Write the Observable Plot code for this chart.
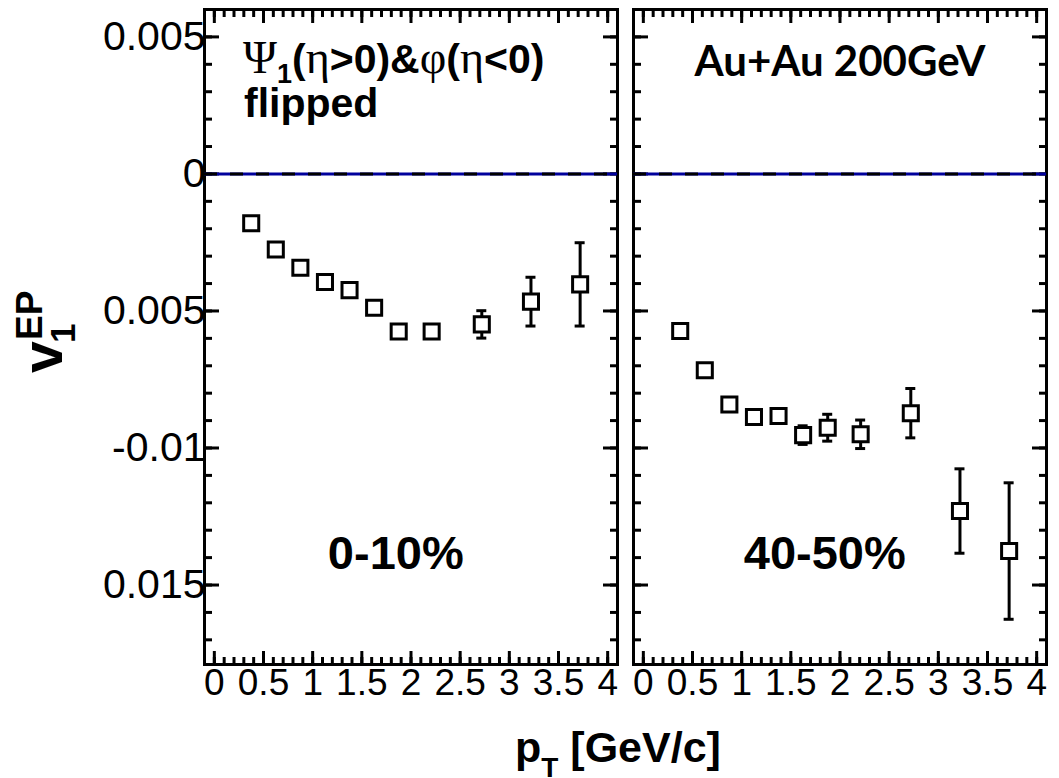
<!DOCTYPE html>
<html>
<head>
<meta charset="utf-8">
<script src="https://cdn.jsdelivr.net/npm/d3@7"></script>
<script src="https://cdn.jsdelivr.net/npm/@observablehq/plot@0.6"></script>
<style>
  html, body { margin: 0; padding: 0; background: #fff; }
  #chart { position: relative; width: 1059px; height: 778px; overflow: hidden; }
</style>
</head>
<body>
<div id="chart"></div>
<script>
// pT bin centres (GeV/c), shared by both centrality classes
const pt = [0.375, 0.625, 0.875, 1.125, 1.375, 1.625, 1.875, 2.21, 2.72, 3.22, 3.72];

// v1 from the event-plane method, 0-10% centrality, with statistical errors
const v1Central  = [-0.0018, -0.00276, -0.00342, -0.00394, -0.00424, -0.00488, -0.00575, -0.00575, -0.00549, -0.00466, -0.00403];
const errCentral = [0.0001, 0.0001, 0.0001, 0.00011, 0.00012, 0.00014, 0.00018, 0.00022, 0.0005, 0.00089, 0.00152];

// v1, 40-50% centrality
const v1Peripheral  = [-0.00573, -0.00716, -0.00841, -0.00887, -0.00883, -0.00953, -0.00926, -0.0095, -0.00873, -0.0123, -0.01376];
const errPeripheral = [0.00015, 0.00018, 0.0002, 0.00022, 0.00025, 0.00034, 0.00049, 0.00052, 0.0009, 0.00154, 0.00249];

const panels = ["0-10%", "40-50%"];

const xTickValues = [0, 0.5, 1, 1.5, 2, 2.5, 3, 3.5, 4];
const xTickLabels = ["0", "0.5", "1", "1.5", "2", "2.5", "3", "3.5", "4"];
const yTickValues = [0.005, 0, -0.005, -0.01, -0.015];
const yTickLabels = ["0.005", "0", "0.005", "-0.01", "0.015"];

// one row per measured point, tagged with its centrality panel
const rows = panels.flatMap((panel, p) => pt.map((x, i) => ({
  panel,
  pt: x,
  v1: p ? v1Peripheral[i] : v1Central[i],
  err: p ? errPeripheral[i] : errCentral[i]
})));

const xLabelOf = new Map(xTickValues.map((v, i) => [v, xTickLabels[i]]));
const yLabelOf = new Map(yTickValues.map((v, i) => [v, yTickLabels[i]]));

// minor tick grids: 0.1 in pT, 0.001 in v1
const xMinor = d3.range(0, 41).map(k => k / 10);
const yMinor = d3.range(-17, 7).map(k => k / 1000);

const sans = "'Liberation Sans', Arial, Helvetica, sans-serif";
const serif = "'Liberation Serif', 'Times New Roman', serif";
const blank = () => "";

// inward-pointing ticks on every side of every panel
const frameTicks = (values, anchor, size, k) =>
  (k === "x" ? Plot.axisX : Plot.axisY)(values, {
    anchor, tickSize: -size, strokeWidth: 3, tickFormat: blank,
    facetAnchor: null, label: null
  });

const chart = Plot.plot({
  width: 1059,
  height: 778,
  marginLeft: 204,
  marginRight: 12,
  marginTop: 9,
  marginBottom: 114,
  style: {fontFamily: sans, background: "white", color: "black"},
  x: {domain: [-0.1, 4.1]},
  y: {domain: [-0.0179, 0.006]},
  fx: {domain: panels, paddingInner: 32 / 859, paddingOuter: 0, axis: null, label: null},
  marks: [
    Plot.frame({strokeWidth: 3}),

    frameTicks(yMinor, "left", 8, "y"),
    frameTicks(yTickValues, "left", 15, "y"),
    frameTicks(yMinor, "right", 8, "y"),
    frameTicks(yTickValues, "right", 15, "y"),
    frameTicks(xMinor, "bottom", 7, "x"),
    frameTicks(xTickValues, "bottom", 13, "x"),
    frameTicks(xMinor, "top", 7, "x"),
    frameTicks(xTickValues, "top", 13, "x"),

    // tick labels: y on the outer left panel only, x under both panels
    Plot.axisY(yTickValues, {
      anchor: "left", tickSize: 0, tickPadding: -1, fontSize: 41,
      tickFormat: d => yLabelOf.get(d), label: null
    }),
    Plot.axisX(xTickValues, {
      anchor: "bottom", tickSize: 0, tickPadding: 4, fontSize: 37,
      tickFormat: d => xLabelOf.get(d), label: null
    }),

    // zero reference: blue line under a black dashed one
    Plot.ruleY([0], {stroke: "#00009c", strokeWidth: 3}),
    Plot.ruleY([0], {stroke: "black", strokeWidth: 3, strokeDasharray: "13,13"}),

    // error bars with end caps
    Plot.ruleX(rows, {fx: "panel", x: "pt", y1: d => d.v1 - d.err, y2: d => d.v1 + d.err, strokeWidth: 3}),
    Plot.ruleY(rows, {fx: "panel", x1: "pt", x2: "pt", y: d => d.v1 - d.err, strokeWidth: 3, insetLeft: -5, insetRight: -5}),
    Plot.ruleY(rows, {fx: "panel", x1: "pt", x2: "pt", y: d => d.v1 + d.err, strokeWidth: 3, insetLeft: -5, insetRight: -5}),

    // open squares
    Plot.dot(rows, {fx: "panel", x: "pt", y: "v1", symbol: "square", r: 8.5, fill: "white", stroke: "black", strokeWidth: 3}),

    // centrality class in each panel
    Plot.text(panels, {fx: d => d, text: d => d, x: 1.845, y: -0.01385, fontSize: 47, fontWeight: "bold"}),

    // collision system, right panel
    Plot.text([{panel: "40-50%", label: "Au+Au 200GeV"}], {
      fx: "panel", text: "label", x: 2.0, y: 0.00407,
      fontSize: 42, fontWeight: "bold", fontFamily: "Lato, 'Open Sans', sans-serif"
    }),

    // second line of the method note, left panel
    Plot.text([{panel: "0-10%", label: "flipped"}], {
      fx: "panel", text: "label", x: 0.302, y: 0.00254, textAnchor: "start",
      fontSize: 41, fontWeight: "bold"
    })
  ]
});

document.getElementById("chart").appendChild(chart);

const svg = d3.select(chart);

// method note with Greek symbols and a subscript
const note = svg.append("text")
  .attr("x", 243).attr("y", 73)
  .attr("text-anchor", "start")
  .attr("font-size", 41).attr("fill", "black");
const part = (t, opts = {}) => {
  const s = note.append("tspan").text(t)
    .attr("font-family", opts.serif ? serif : sans)
    .attr("font-weight", opts.serif ? "normal" : "bold");
  if (opts.size) s.attr("font-size", opts.size);
  if (opts.dy) s.attr("dy", opts.dy);
  return s;
};
part("Ψ", {serif: true, size: 46});
part("1", {size: 27, dy: 10});
part("(", {dy: -10});
part("η", {serif: true, size: 46});
part(">0)&");
part("φ", {serif: true, size: 46});
part("(");
part("η", {serif: true, size: 46});
part("<0)");

// x-axis title: p_T [GeV/c]
const xt = svg.append("text")
  .attr("x", 515).attr("y", 762)
  .attr("text-anchor", "start")
  .attr("font-family", sans).attr("font-weight", "bold")
  .attr("font-size", 43).attr("fill", "black");
xt.append("tspan").text("p");
xt.append("tspan").text("T").attr("font-size", 28).attr("dy", 15);
xt.append("tspan").text(" [GeV/c]").attr("dy", -15);

// y-axis title: v_1^EP, reading upwards
const yt = svg.append("text")
  .attr("transform", "translate(62,373) rotate(-90)")
  .attr("text-anchor", "start")
  .attr("font-family", sans).attr("font-weight", "bold")
  .attr("font-size", 57).attr("fill", "black");
yt.append("tspan").text("v");
yt.append("tspan").text("EP").attr("font-size", 37).attr("x", 33).attr("dy", -20);
yt.append("tspan").text("1").attr("font-size", 35).attr("x", 30).attr("dy", 33);
</script>
</body>
</html>
